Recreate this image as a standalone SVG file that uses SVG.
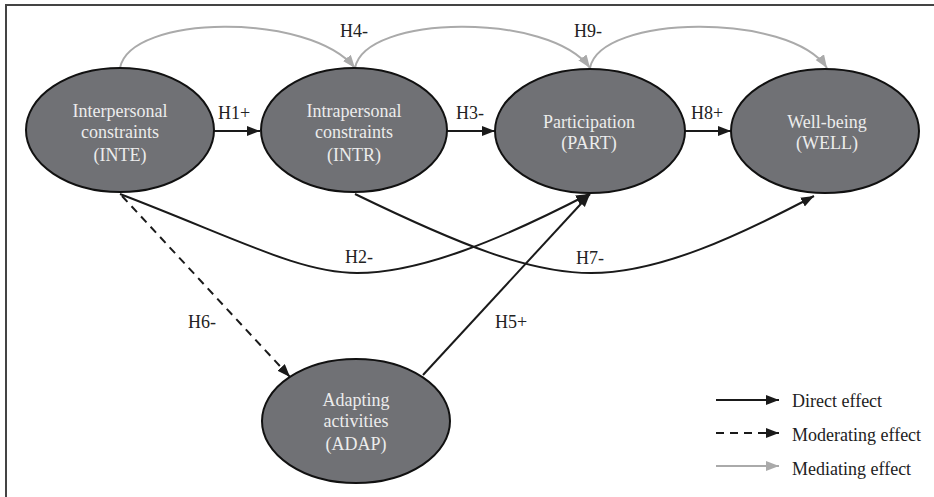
<svg xmlns="http://www.w3.org/2000/svg" width="934" height="497" viewBox="0 0 934 497">
<style>
.node{fill:#707175;stroke:#111;stroke-width:2}
.nt{font-family:"Liberation Serif","Times New Roman",serif;font-size:18px;fill:#ececec;text-anchor:middle}
.lb{font-family:"Liberation Serif","Times New Roman",serif;font-size:18px;fill:#222}
.direct{fill:none;stroke:#1a1a1a;stroke-width:2}
.mod{fill:none;stroke:#1a1a1a;stroke-width:2;stroke-dasharray:8 6}
.med{fill:none;stroke:#aaaaaa;stroke-width:2}
</style>
<defs>
<marker id="ab" markerUnits="userSpaceOnUse" markerWidth="14" markerHeight="12" refX="13" refY="5" orient="auto"><path d="M0,0 L13,5 L0,10 z" fill="#1a1a1a"/></marker>
<marker id="ag" markerUnits="userSpaceOnUse" markerWidth="14" markerHeight="12" refX="13" refY="5" orient="auto"><path d="M0,0 L13,5 L0,10 z" fill="#aaaaaa"/></marker>
</defs>
<path d="M6,497 L6,5 L934,5" fill="none" stroke="#444" stroke-width="2"/>
<g id="connectors">
<path class="med" d="M120,68 C130,14 310,12 355,68" marker-end="url(#ag)"/>
<path class="med" d="M355,68 C365,14 550,12 590,68" marker-end="url(#ag)"/>
<path class="med" d="M590,68 C600,14 790,12 827,68" marker-end="url(#ag)"/>
<path class="direct" d="M213,131 L260,131" marker-end="url(#ab)"/>
<path class="direct" d="M447,131 L495,131" marker-end="url(#ab)"/>
<path class="direct" d="M684,131 L731,131" marker-end="url(#ab)"/>
<path class="direct" d="M120,194 C240,240 300,273 357,273 C420,273 500,240 589,194" marker-end="url(#ab)"/>
<path class="direct" d="M355,194 C460,245 530,273 591,273 C660,273 740,235 814,196" marker-end="url(#ab)"/>
<path class="direct" d="M423,375 L590,194" marker-end="url(#ab)"/>
<path class="mod" d="M122,196 L290,377" marker-end="url(#ab)"/>
<text class="lb" x="218" y="119">H1+</text>
<text class="lb" x="456" y="119">H3-</text>
<text class="lb" x="691" y="119">H8+</text>
<text class="lb" x="340" y="37">H4-</text>
<text class="lb" x="574" y="37">H9-</text>
<text class="lb" x="345" y="263">H2-</text>
<text class="lb" x="576" y="264">H7-</text>
<text class="lb" x="495" y="328">H5+</text>
<text class="lb" x="188" y="328">H6-</text>
</g>
<g id="INTE">
<ellipse class="node" cx="120" cy="130" rx="94" ry="62"/>
<text class="nt" x="120" y="117">Interpersonal</text>
<text class="nt" x="120" y="138">constraints</text>
<text class="nt" x="120" y="161">(INTE)</text>
</g>
<g id="INTR">
<ellipse class="node" cx="354" cy="130" rx="93" ry="62"/>
<text class="nt" x="354" y="117">Intrapersonal</text>
<text class="nt" x="354" y="138">constraints</text>
<text class="nt" x="354" y="161">(INTR)</text>
</g>
<g id="PART">
<ellipse class="node" cx="590" cy="131" rx="95" ry="62"/>
<text class="nt" x="589" y="128">Participation</text>
<text class="nt" x="589" y="149">(PART)</text>
</g>
<g id="WELL">
<ellipse class="node" cx="825" cy="131" rx="94" ry="62"/>
<text class="nt" x="827" y="128">Well-being</text>
<text class="nt" x="827" y="149">(WELL)</text>
</g>
<g id="ADAP">
<ellipse class="node" cx="356" cy="421" rx="94" ry="62"/>
<text class="nt" x="356" y="406">Adapting</text>
<text class="nt" x="356" y="427">activities</text>
<text class="nt" x="356" y="450">(ADAP)</text>
</g>
<g id="legend">
<path class="direct" d="M716,400 L779,400" marker-end="url(#ab)"/>
<path class="mod" d="M716,433 L779,433" marker-end="url(#ab)"/>
<path class="med" d="M716,466 L779,466" marker-end="url(#ag)"/>
<text class="lb" x="792" y="407">Direct effect</text>
<text class="lb" x="792" y="441">Moderating effect</text>
<text class="lb" x="792" y="475">Mediating effect</text>
</g>
</svg>
